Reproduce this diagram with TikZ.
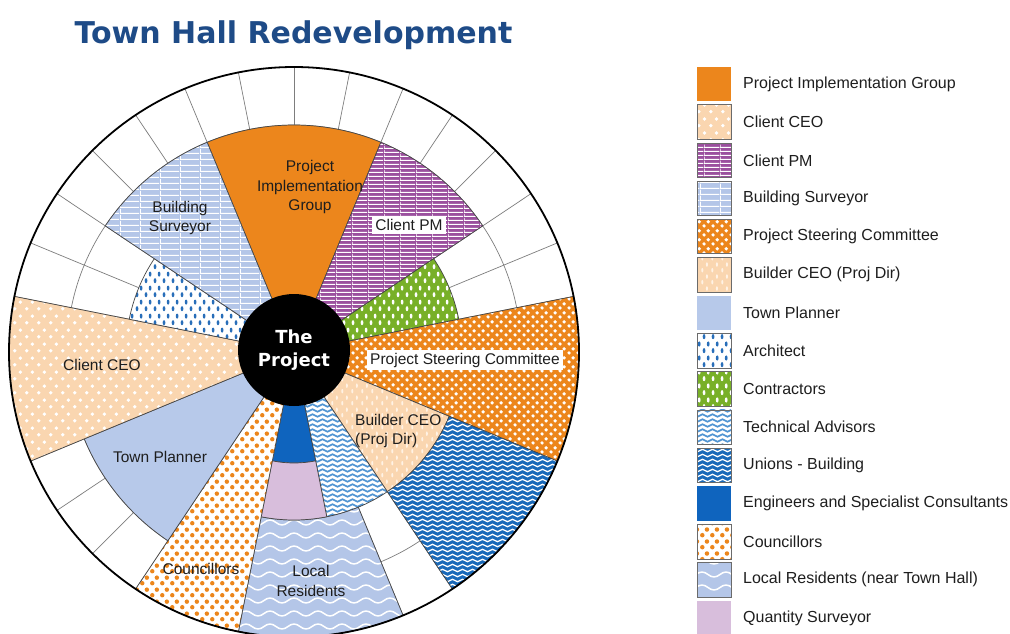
\documentclass[tikz,border=0pt]{standalone}
\usepackage{fontspec}
\setmainfont{Liberation Sans}
\newfontfamily\dejavu{DejaVu Sans}
\usetikzlibrary{patterns}

\definecolor{cOrange}{RGB}{236,134,28}
\definecolor{cPeach}{RGB}{250,214,176}
\definecolor{cPeachL}{RGB}{255,242,228}
\definecolor{cPurple}{RGB}{155,80,158}
\definecolor{cLBlue}{RGB}{180,198,232}
\definecolor{cTP}{RGB}{183,201,234}
\definecolor{cArchBlue}{RGB}{40,110,185}
\definecolor{cGreen}{RGB}{120,176,40}
\definecolor{cTA}{RGB}{80,148,210}
\definecolor{cUnion}{RGB}{25,105,185}
\definecolor{cEng}{RGB}{15,100,190}
\definecolor{cQS}{RGB}{216,190,220}
\definecolor{cTitle}{RGB}{30,75,135}
\definecolor{cGrid}{RGB}{125,125,125}
\definecolor{cBorder}{RGB}{70,70,70}
\definecolor{cText}{RGB}{30,30,30}

% ---------- patterns ----------
\pgfdeclarepatternformonly{dotsCEO}{\pgfpointorigin}{\pgfpoint{12pt}{14pt}}{\pgfpoint{12pt}{14pt}}{%
  \pgfpathcircle{\pgfpoint{3pt}{3.5pt}}{2pt}%
  \pgfpathcircle{\pgfpoint{9pt}{10.5pt}}{2pt}%
  \pgfusepath{fill}}
\pgfdeclarepatternformonly{dotsPSC}{\pgfpointorigin}{\pgfpoint{9pt}{9pt}}{\pgfpoint{9pt}{9pt}}{%
  \pgfpathcircle{\pgfpoint{2.25pt}{2.25pt}}{2pt}%
  \pgfpathcircle{\pgfpoint{6.75pt}{6.75pt}}{2pt}%
  \pgfusepath{fill}}
\pgfdeclarepatternformonly{dotsCOU}{\pgfpointorigin}{\pgfpoint{10pt}{12pt}}{\pgfpoint{10pt}{12pt}}{%
  \pgfpathcircle{\pgfpoint{2.5pt}{3pt}}{2.4pt}%
  \pgfpathcircle{\pgfpoint{7.5pt}{9pt}}{2.4pt}%
  \pgfusepath{fill}}
\pgfdeclarepatternformonly{marks}{\pgfpointorigin}{\pgfpoint{10pt}{12pt}}{\pgfpoint{10pt}{12pt}}{%
  \pgfpathellipse{\pgfpoint{2.5pt}{3pt}}{\pgfpoint{1.1pt}{0pt}}{\pgfpoint{0pt}{2.4pt}}%
  \pgfpathellipse{\pgfpoint{7.5pt}{9pt}}{\pgfpoint{1.1pt}{0pt}}{\pgfpoint{0pt}{2.4pt}}%
  \pgfusepath{fill}}
\pgfdeclarepatternformonly{drops}{\pgfpointorigin}{\pgfpoint{9pt}{14pt}}{\pgfpoint{9pt}{14pt}}{%
  \pgfpathellipse{\pgfpoint{2.25pt}{3.5pt}}{\pgfpoint{1.5pt}{0pt}}{\pgfpoint{0pt}{2.7pt}}%
  \pgfpathellipse{\pgfpoint{6.75pt}{10.5pt}}{\pgfpoint{1.5pt}{0pt}}{\pgfpoint{0pt}{2.7pt}}%
  \pgfusepath{fill}}
\pgfdeclarepatternformonly{hstripes}{\pgfpointorigin}{\pgfpoint{16pt}{3.6pt}}{\pgfpoint{16pt}{3.6pt}}{%
  \pgfpathrectangle{\pgfpoint{0pt}{0pt}}{\pgfpoint{16pt}{1.3pt}}%
  \pgfpathrectangle{\pgfpoint{0pt}{0pt}}{\pgfpoint{0.6pt}{3.6pt}}%
  \pgfusepath{fill}}
\pgfdeclarepatternformonly{bsgrid}{\pgfpointorigin}{\pgfpoint{20pt}{6pt}}{\pgfpoint{20pt}{6pt}}{%
  \pgfpathrectangle{\pgfpoint{0pt}{0pt}}{\pgfpoint{20pt}{1.4pt}}%
  \pgfpathrectangle{\pgfpoint{0pt}{0pt}}{\pgfpoint{1pt}{6pt}}%
  \pgfusepath{fill}}
\pgfdeclarepatternformonly{wavesTA}{\pgfpoint{-1pt}{0pt}}{\pgfpoint{11pt}{5pt}}{\pgfpoint{10pt}{5pt}}{%
  \pgfsetlinewidth{1.7pt}\pgfsetroundcap
  \pgfpathmoveto{\pgfpoint{0pt}{2.5pt}}%
  \pgfpathcurveto{\pgfpoint{1.67pt}{4.1pt}}{\pgfpoint{3.33pt}{4.1pt}}{\pgfpoint{5pt}{2.5pt}}%
  \pgfpathcurveto{\pgfpoint{6.67pt}{0.9pt}}{\pgfpoint{8.33pt}{0.9pt}}{\pgfpoint{10pt}{2.5pt}}%
  \pgfusepath{stroke}}
\pgfdeclarepatternformonly{wavesUN}{\pgfpoint{-1pt}{0pt}}{\pgfpoint{11pt}{5pt}}{\pgfpoint{10pt}{5pt}}{%
  \pgfsetlinewidth{1.3pt}\pgfsetroundcap
  \pgfpathmoveto{\pgfpoint{0pt}{2.5pt}}%
  \pgfpathcurveto{\pgfpoint{1.67pt}{4.1pt}}{\pgfpoint{3.33pt}{4.1pt}}{\pgfpoint{5pt}{2.5pt}}%
  \pgfpathcurveto{\pgfpoint{6.67pt}{0.9pt}}{\pgfpoint{8.33pt}{0.9pt}}{\pgfpoint{10pt}{2.5pt}}%
  \pgfusepath{stroke}}
\pgfdeclarepatternformonly{wavesLR}{\pgfpoint{-1pt}{0pt}}{\pgfpoint{25pt}{13pt}}{\pgfpoint{24pt}{13pt}}{%
  \pgfsetlinewidth{1.5pt}\pgfsetroundcap
  \pgfpathmoveto{\pgfpoint{0pt}{6.5pt}}%
  \pgfpathcurveto{\pgfpoint{4pt}{9.8pt}}{\pgfpoint{8pt}{9.8pt}}{\pgfpoint{12pt}{6.5pt}}%
  \pgfpathcurveto{\pgfpoint{16pt}{3.2pt}}{\pgfpoint{20pt}{3.2pt}}{\pgfpoint{24pt}{6.5pt}}%
  \pgfusepath{stroke}}

\newcommand\piepath[3]{(0,0) -- (#1:#3) arc[start angle=#1, end angle=#2, radius=#3] -- cycle}
\newcommand\ringpath[4]{(#1:#3) arc[start angle=#1, end angle=#2, radius=#3] -- (#2:#4) arc[start angle=#2, end angle=#1, radius=#4] -- cycle}

\tikzset{
  sPIG/.style={fill=cOrange},
  sCEO/.style={preaction={fill=cPeach}, pattern=dotsCEO, pattern color=white},
  sCPM/.style={preaction={fill=cPurple}, pattern=hstripes, pattern color=white},
  sBS/.style={preaction={fill=cLBlue}, pattern=bsgrid, pattern color=white},
  sPSC/.style={preaction={fill=cOrange}, pattern=dotsPSC, pattern color=white},
  sBCEO/.style={preaction={fill=cPeach}, pattern=marks, pattern color=cPeachL},
  sTP/.style={fill=cTP},
  sARC/.style={preaction={fill=white}, pattern=drops, pattern color=cArchBlue},
  sCON/.style={preaction={fill=cGreen}, pattern=drops, pattern color=white},
  sTA/.style={preaction={fill=white}, pattern=wavesTA, pattern color=cTA},
  sUN/.style={preaction={fill=cUnion}, pattern=wavesUN, pattern color=white},
  sENG/.style={fill=cEng},
  sCOU/.style={preaction={fill=white}, pattern=dotsCOU, pattern color=cOrange},
  sLR/.style={preaction={fill=cLBlue}, pattern=wavesLR, pattern color=white},
  sQS/.style={fill=cQS},
  wedge/.style={draw=cBorder, line width=0.7pt},
  gridline/.style={draw=cGrid, line width=0.7pt},
  lab/.style={font=\fontsize{15.5}{19.5}\selectfont, text=cText, align=center, inner sep=2pt},
  boxlab/.style={lab, fill=white, inner xsep=3pt, inner ysep=3pt},
  legtext/.style={font=\fontsize{16}{19}\selectfont, text=cText, anchor=west, inner sep=0pt},
  swb/.style={draw=cBorder!80, line width=0.8pt},
  nob/.style={draw=none}
}

\newcommand\legitem[4]{%
  \pgfmathsetmacro\ly{-(84+38.14*#1)}%
  \path[#2,#4] (697,\ly+17.3) rectangle (731,\ly-17.3);
  \node[legtext] (leg#1) at (743,\ly) {#3};
}

\begin{document}
\begin{tikzpicture}[x=1pt,y=1pt]
\useasboundingbox (0,0) rectangle (1010,-633);
\fill[white] (0,0) rectangle (1010,-633);
\clip (0,0) rectangle (1010,-633);

\node[font=\dejavu\bfseries\fontsize{30}{35}\selectfont, text=cTitle, anchor=base, inner sep=0pt] (title) at (293.5,-43) {Town Hall Redevelopment};

\begin{scope}[shift={(294,-352)}]
  \fill[white] (0,0) circle[radius=285];
  \foreach \a in {0,11.25,...,349} \draw[gridline] (0,0) -- (\a:285);
  \draw[gridline] (0,0) circle[radius=227];

  \path[sPIG,wedge]  \piepath{67.5}{112.5}{227};
  \path[sCPM,wedge]  \piepath{33.75}{67.5}{227};
  \path[sCON,wedge]  \piepath{11.25}{33.75}{168};
  \path[sPSC,wedge]  \piepath{-22.5}{11.25}{285};
  \path[sBCEO,wedge] \piepath{-56.25}{-22.5}{168};
  \path[sUN,wedge]   \ringpath{-56.25}{-22.5}{168}{285};
  \path[sTA,wedge]   \piepath{-78.75}{-56.25}{168};
  \path[sLR,wedge]   \ringpath{-101.25}{-67.5}{168}{285};
  \path[sENG,wedge]  \piepath{-101.25}{-78.75}{111};
  \path[sQS,wedge]   \ringpath{-101.25}{-78.75}{111}{168};
  \path[sCOU,wedge]  \piepath{-123.75}{-101.25}{285};
  \path[sTP,wedge]   \piepath{-157.5}{-123.75}{227};
  \path[sCEO,wedge]  \piepath{168.75}{202.5}{285};
  \path[sARC,wedge]  \piepath{146.25}{168.75}{168};
  \path[sBS,wedge]   \piepath{112.5}{146.25}{227};

  \draw[black, line width=1.8pt] (0,0) circle[radius=285];
  \node[circle, fill=black, minimum size=112pt, inner sep=0pt, text=white, align=center,
        font=\dejavu\bfseries\fontsize{18}{23}\selectfont] (hub) at (0,2) {The\\Project};
\end{scope}

\node[lab] (lPIG) at (310,-187) {Project\\Implementation\\Group};
\node[lab] (lBS) at (180,-218) {Building\\Surveyor};
\node[boxlab] (lCPM) at (409,-225) {Client PM};
\node[lab] (lCEO) at (102,-365) {Client CEO};
\node[boxlab] (lPSC) at (465,-360) {Project Steering Committee};
\node[lab, align=left, anchor=west] (lBCEO) at (353,-431) {Builder CEO\\(Proj Dir)};
\node[lab] (lTP) at (160,-457) {Town Planner};
\node[lab] (lCOU) at (201,-569) {Councillors};
\node[lab] (lLR) at (311,-581) {Local\\Residents};

\legitem{0}{sPIG}{Project Implementation Group}{nob}
\legitem{1}{sCEO}{Client CEO}{swb}
\legitem{2}{sCPM}{Client PM}{swb}
\legitem{3}{sBS}{Building Surveyor}{swb}
\legitem{4}{sPSC}{Project Steering Committee}{swb}
\legitem{5}{sBCEO}{Builder CEO (Proj Dir)}{swb}
\legitem{6}{sTP}{Town Planner}{nob}
\legitem{7}{sARC}{Architect}{swb}
\legitem{8}{sCON}{Contractors}{swb}
\legitem{9}{sTA}{Technical Advisors}{swb}
\legitem{10}{sUN}{Unions - Building}{swb}
\legitem{11}{sENG}{Engineers and Specialist Consultants}{nob}
\legitem{12}{sCOU}{Councillors}{swb}
\legitem{13}{sLR}{Local Residents (near Town Hall)}{swb}
\legitem{14}{sQS}{Quantity Surveyor}{nob}
\end{tikzpicture}
\end{document}
